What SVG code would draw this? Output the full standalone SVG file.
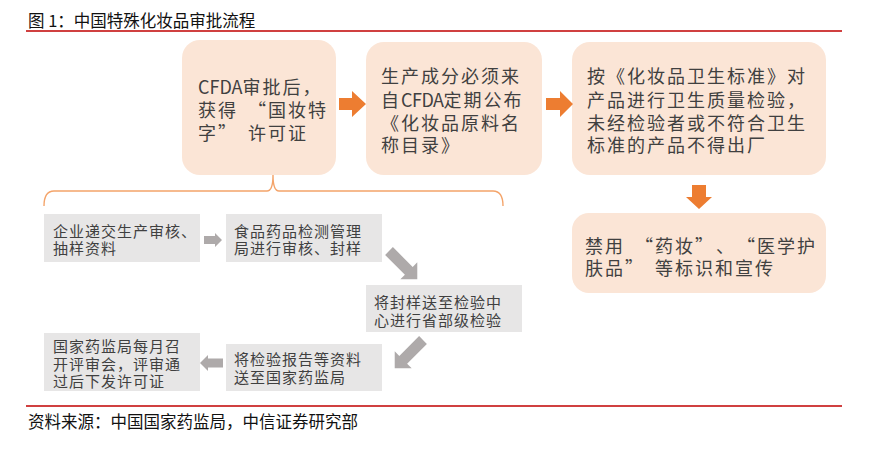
<svg xmlns="http://www.w3.org/2000/svg" width="875" height="472" viewBox="0 0 875 472">
<style>
  text { font-family: "Noto Sans CJK SC", "Noto Sans", sans-serif; }
  .cap { font-size: 16.5px; fill: #111; }
  .big { font-size: 18px; letter-spacing: 2px; fill: #404040; }
  .sm { font-size: 15px; letter-spacing: 1px; fill: #404040; }
  .peach { fill: #FBE5D6; }
  .grey { fill: #E7E6E6; }
  .oa { fill: #ED7D31; }
  .ga { fill: #AEAAAA; }
  .rule { stroke: #C00000; stroke-width: 1.5; }
  .brace { fill: none; stroke: #F4A46A; stroke-width: 1.4; }
</style>
<rect width="875" height="472" fill="#fff"/>
<text class="cap" x="28" y="27">图 1：中国特殊化妆品审批流程</text>
<line class="rule" x1="26" y1="31" x2="842" y2="31"/>

<g id="n1">
  <rect class="peach" x="182" y="40" width="154" height="135" rx="18"/>
  <text class="big"><tspan x="198" y="94" dx="0 -2 -2 -2 -2">CFDA审批后，</tspan><tspan x="198" y="117" dx="0 0 10">获得“国妆特</tspan><tspan x="198" y="139.5" dx="0 0 10">字”许可证</tspan></text>
</g>
<g id="n2">
  <rect class="peach" x="366" y="42" width="176" height="133" rx="18"/>
  <text class="big"><tspan x="381" y="83">生产成分必须来</tspan><tspan x="381" y="106.5" dx="0 0 -2.5 -2.5 -2.5 -2.5">自CFDA定期公布</tspan><tspan x="381" y="129.5">《化妆品原料名</tspan><tspan x="381" y="152">称目录》</tspan></text>
</g>
<g id="n3">
  <rect class="peach" x="572" y="42" width="254" height="133" rx="18"/>
  <text class="big"><tspan x="587" y="83">按《化妆品卫生标准》对</tspan><tspan x="587" y="106.5">产品进行卫生质量检验，</tspan><tspan x="587" y="129.5">未经检验者或不符合卫生</tspan><tspan x="587" y="152">标准的产品不得出厂</tspan></text>
</g>
<g id="n4">
  <rect class="peach" x="572" y="213" width="254" height="80" rx="17"/>
  <text class="big"><tspan x="585" y="253" dx="0 0 10 0 0 0 10 10">禁用“药妆”、“医学护</tspan><tspan x="585" y="275" dx="0 0 0 10">肤品”等标识和宣传</tspan></text>
</g>
<g id="nA">
  <rect class="grey" x="44" y="214" width="156" height="48"/>
  <text class="sm"><tspan x="53" y="237">企业递交生产审核、</tspan><tspan x="53" y="254">抽样资料</tspan></text>
</g>
<g id="nB">
  <rect class="grey" x="226" y="214" width="156" height="48"/>
  <text class="sm"><tspan x="234" y="237">食品药品检测管理</tspan><tspan x="234" y="254">局进行审核、封样</tspan></text>
</g>
<g id="nC">
  <rect class="grey" x="366" y="285" width="156" height="47"/>
  <text class="sm"><tspan x="374" y="307.5">将封样送至检验中</tspan><tspan x="374" y="325.5">心进行省部级检验</tspan></text>
</g>
<g id="nD">
  <rect class="grey" x="226" y="344" width="156" height="47"/>
  <text class="sm"><tspan x="234" y="365">将检验报告等资料</tspan><tspan x="234" y="382.5">送至国家药监局</tspan></text>
</g>
<g id="nE">
  <rect class="grey" x="44" y="333" width="156" height="58"/>
  <text class="sm"><tspan x="53" y="352">国家药监局每月召</tspan><tspan x="53" y="369.5">开评审会，评审通</tspan><tspan x="53" y="387">过后下发许可证</tspan></text>
</g>

<g id="connectors">
  <polygon class="oa" points="339,98 352,98 352,91 366,104 352,117 352,110 339,110"/>
  <polygon class="oa" points="546,98 560,98 560,91 573,104 560,117 560,110 546,110"/>
  <polygon class="oa" points="692,185 706,185 706,197 712,197 699,209 686,197 692,197"/>
  <path class="brace" d="M44,206 Q44,191 54,191 H267 Q273,191 273,175 Q273,191 279,191 H493 Q503,191 503,206"/>
  <polygon class="ga" points="204,236 215,236 215,233 222,240 215,247 215,244 204,244"/>
  <polygon class="ga" transform="translate(389,251) rotate(45)" points="0,-5.5 28,-5.5 28,-12 40,0 28,12 28,5.5 0,5.5"/>
  <polygon class="ga" transform="translate(423,340) rotate(135)" points="0,-5.5 28,-5.5 28,-12 40,0 28,12 28,5.5 0,5.5"/>
  <polygon class="ga" points="223,358.5 208,358.5 208,355 200,363 208,371 208,367.5 223,367.5"/>
</g>

<line class="rule" x1="26" y1="406" x2="842" y2="406"/>
<text class="cap" x="28" y="427.5">资料来源：中国国家药监局，中信证券研究部</text>
</svg>
